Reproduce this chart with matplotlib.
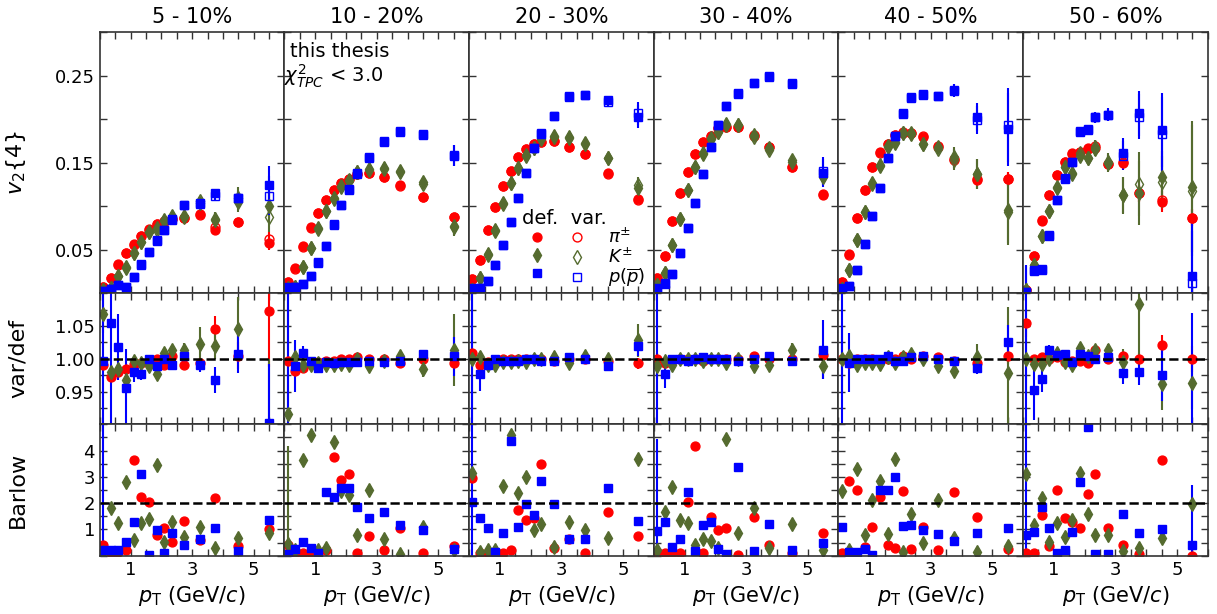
import numpy as np
import matplotlib
matplotlib.use('Agg')
import matplotlib.pyplot as plt
from matplotlib.ticker import FixedLocator, MultipleLocator, FormatStrFormatter
from matplotlib.lines import Line2D

centralities = ['5 - 10%', '10 - 20%', '20 - 30%', '30 - 40%', '40 - 50%', '50 - 60%']
pt = [0.1, 0.35, 0.6, 0.85, 1.1, 1.35, 1.6, 1.85, 2.1, 2.35, 2.75, 3.25, 3.75, 4.5, 5.5]

# v2{4} default selection
pi_def = [
    [0.0076, 0.018, 0.0333, 0.0467, 0.0563, 0.0659, 0.0736, 0.0793, 0.0831, 0.0854, 0.0869, 0.0908, 0.0728, 0.082, 0.0582],
    [0.0134, 0.0287, 0.0544, 0.0759, 0.0927, 0.107, 0.1187, 0.1264, 0.131, 0.1371, 0.1386, 0.134, 0.1245, 0.111, 0.088],
    [0.0161, 0.0383, 0.0728, 0.0996, 0.1237, 0.141, 0.1563, 0.1655, 0.1716, 0.1743, 0.1754, 0.1685, 0.160, 0.138, 0.1084],
    [0.018, 0.0433, 0.0831, 0.115, 0.1398, 0.1598, 0.1743, 0.1812, 0.1897, 0.1908, 0.1908, 0.1808, 0.1685, 0.1455, 0.113],
    [0.0134, 0.0448, 0.0862, 0.1187, 0.1448, 0.162, 0.1713, 0.182, 0.1846, 0.184, 0.180, 0.1685, 0.154, 0.131, 0.131],
    [0.0038, 0.0433, 0.0835, 0.113, 0.136, 0.1513, 0.161, 0.1628, 0.1667, 0.1667, 0.1486, 0.150, 0.115, 0.1053, 0.0869],
]
k_def = [
    [0.004, 0.0057, 0.0199, 0.0306, 0.046, 0.0593, 0.0708, 0.0747, 0.0831, 0.0873, 0.0873, 0.104, 0.0843, 0.105, 0.100],
    [0.006, 0.0073, 0.0306, 0.0524, 0.0747, 0.095, 0.109, 0.1237, 0.130, 0.1398, 0.1429, 0.1437, 0.1398, 0.128, 0.0759],
    [0.004, 0.0172, 0.0448, 0.0728, 0.1034, 0.1271, 0.1444, 0.159, 0.1667, 0.178, 0.180, 0.1793, 0.1716, 0.155, 0.1207],
    [0.0095, 0.023, 0.0555, 0.0854, 0.1187, 0.1455, 0.161, 0.178, 0.1857, 0.1946, 0.1934, 0.182, 0.1667, 0.1513, 0.1352],
    [0.0046, 0.0268, 0.0613, 0.0938, 0.1264, 0.1475, 0.1685, 0.1736, 0.184, 0.1828, 0.1716, 0.1678, 0.1563, 0.137, 0.0957],
    [0.004, 0.0325, 0.0659, 0.095, 0.1207, 0.1455, 0.1386, 0.158, 0.155, 0.166, 0.1494, 0.113, 0.1156, 0.1333, 0.1225],
]
p_def = [
    [0.003, 0.0046, 0.0095, 0.0073, 0.019, 0.0337, 0.047, 0.0613, 0.0728, 0.085, 0.1015, 0.104, 0.115, 0.109, 0.1245],
    [0.0076, 0.0076, 0.0103, 0.0199, 0.0356, 0.0547, 0.0793, 0.1015, 0.1195, 0.138, 0.1563, 0.175, 0.1866, 0.182, 0.158],
    [0.0057, 0.0065, 0.0145, 0.0325, 0.0555, 0.0823, 0.110, 0.138, 0.1667, 0.184, 0.204, 0.226, 0.228, 0.222, 0.203],
    [0.0057, 0.0115, 0.0218, 0.0467, 0.0754, 0.104, 0.137, 0.1678, 0.1934, 0.2156, 0.230, 0.2414, 0.249, 0.2414, 0.1386],
    [0.0057, 0.0088, 0.0268, 0.0563, 0.0889, 0.1214, 0.155, 0.1808, 0.207, 0.2249, 0.228, 0.227, 0.2337, 0.2023, 0.1885],
    [0.002, 0.0268, 0.0276, 0.0659, 0.107, 0.131, 0.1513, 0.185, 0.1877, 0.2023, 0.205, 0.1616, 0.207, 0.1877, 0.0203],
]
pi_err = [
    [0.001, 0.001, 0.001, 0.001, 0.001, 0.001, 0.001, 0.001, 0.001, 0.001, 0.001, 0.002, 0.003, 0.004, 0.008],
    [0.001, 0.001, 0.001, 0.001, 0.001, 0.001, 0.001, 0.001, 0.001, 0.001, 0.001, 0.002, 0.002, 0.003, 0.004],
    [0.001, 0.001, 0.001, 0.001, 0.001, 0.001, 0.001, 0.001, 0.001, 0.001, 0.001, 0.002, 0.002, 0.003, 0.004],
    [0.001, 0.001, 0.001, 0.001, 0.001, 0.001, 0.001, 0.001, 0.001, 0.001, 0.001, 0.002, 0.002, 0.003, 0.005],
    [0.001, 0.001, 0.001, 0.001, 0.001, 0.001, 0.001, 0.001, 0.001, 0.001, 0.002, 0.003, 0.004, 0.006, 0.008],
    [0.002, 0.002, 0.002, 0.002, 0.002, 0.002, 0.002, 0.002, 0.003, 0.003, 0.004, 0.005, 0.01, 0.012, 0.01],
]
k_err = [
    [0.002, 0.002, 0.002, 0.002, 0.002, 0.002, 0.002, 0.002, 0.002, 0.002, 0.003, 0.004, 0.008, 0.012, 0.018],
    [0.002, 0.002, 0.002, 0.002, 0.002, 0.002, 0.002, 0.002, 0.002, 0.002, 0.003, 0.003, 0.004, 0.006, 0.01],
    [0.002, 0.002, 0.002, 0.002, 0.002, 0.002, 0.002, 0.002, 0.002, 0.002, 0.003, 0.003, 0.004, 0.005, 0.01],
    [0.002, 0.002, 0.002, 0.002, 0.002, 0.002, 0.002, 0.002, 0.002, 0.002, 0.003, 0.003, 0.004, 0.006, 0.008],
    [0.002, 0.002, 0.002, 0.002, 0.002, 0.002, 0.002, 0.002, 0.003, 0.003, 0.004, 0.006, 0.012, 0.017, 0.038],
    [0.003, 0.003, 0.003, 0.003, 0.003, 0.004, 0.004, 0.005, 0.006, 0.008, 0.01, 0.021, 0.037, 0.03, 0.075],
]
p_err = [
    [0.006, 0.004, 0.002, 0.002, 0.002, 0.002, 0.002, 0.002, 0.002, 0.002, 0.002, 0.003, 0.005, 0.006, 0.022],
    [0.006, 0.003, 0.002, 0.002, 0.002, 0.002, 0.002, 0.002, 0.002, 0.002, 0.002, 0.003, 0.003, 0.004, 0.012],
    [0.006, 0.003, 0.002, 0.002, 0.002, 0.002, 0.002, 0.002, 0.002, 0.002, 0.002, 0.003, 0.003, 0.004, 0.013],
    [0.006, 0.003, 0.002, 0.002, 0.002, 0.002, 0.002, 0.002, 0.002, 0.002, 0.002, 0.003, 0.003, 0.004, 0.016],
    [0.006, 0.003, 0.002, 0.002, 0.002, 0.002, 0.002, 0.002, 0.002, 0.003, 0.003, 0.004, 0.007, 0.016, 0.042],
    [0.03, 0.004, 0.003, 0.003, 0.003, 0.003, 0.004, 0.004, 0.005, 0.006, 0.007, 0.017, 0.026, 0.043, 0.06],
]

# var/def ratio
pi_ratio = [
    [0.991, 0.972, 0.980, 0.984, 0.992, 0.994, 0.994, 1.0, 0.991, 1.004, 0.990, 0.994, 1.045, 1.005, 1.073],
    [0.997, 0.982, 0.986, 0.992, 0.995, 0.997, 0.997, 0.999, 0.999, 1.003, 1.0, 1.0, 0.994, 0.999, 0.994],
    [1.009, 0.990, 0.995, 0.996, 0.999, 1.0, 0.999, 1.0, 0.999, 0.999, 0.997, 0.999, 1.0, 0.997, 0.993],
    [1.0, 0.994, 0.997, 0.999, 0.999, 1.0, 0.997, 0.999, 0.999, 1.0, 1.0, 1.004, 0.999, 0.999, 1.006],
    [0.999, 0.994, 0.999, 1.0, 0.999, 0.997, 0.999, 1.0, 1.004, 1.0, 1.004, 1.003, 0.997, 0.994, 1.004],
    [1.054, 0.999, 1.003, 1.0, 1.003, 0.995, 0.997, 0.996, 0.994, 1.013, 1.0, 1.004, 0.999, 1.021, 1.0],
]
k_ratio = [
    [1.069, 0.98, 0.984, 0.968, 0.996, 0.994, 0.989, 0.977, 1.009, 1.013, 1.014, 1.023, 1.019, 1.046, 0.88],
    [0.916, 1.003, 0.991, 0.990, 0.994, 0.990, 0.991, 0.992, 0.991, 0.999, 0.989, 0.997, 1.004, 0.984, 1.014],
    [1.0, 1.003, 0.991, 0.991, 0.995, 0.995, 0.997, 0.995, 1.0, 0.999, 1.003, 0.994, 1.004, 1.0, 1.028],
    [0.989, 0.997, 0.991, 0.999, 0.999, 1.0, 0.996, 0.999, 1.0, 0.994, 1.0, 0.989, 0.991, 1.014, 0.989],
    [1.0, 1.004, 0.991, 0.994, 0.994, 0.992, 1.003, 0.994, 1.003, 1.008, 0.999, 0.989, 0.982, 1.002, 0.979],
    [1.0, 0.992, 0.992, 1.0, 1.009, 0.995, 0.991, 1.017, 1.004, 1.013, 1.013, 0.995, 1.084, 0.962, 0.963],
]
p_ratio = [
    [0.997, 1.054, 1.018, 0.955, 0.980, 0.977, 1.0, 0.989, 1.0, 0.990, 1.005, 0.990, 0.968, 1.008, 0.902],
    [0.85, 0.989, 1.009, 0.997, 0.986, 0.995, 0.994, 0.995, 0.995, 0.995, 0.996, 0.995, 0.996, 1.007, 1.004],
    [0.85, 0.976, 0.990, 0.999, 0.997, 0.996, 0.997, 0.999, 1.0, 0.997, 0.997, 1.002, 0.999, 0.989, 1.019],
    [0.85, 0.976, 1.0, 0.999, 0.997, 1.0, 1.003, 0.999, 0.999, 0.999, 0.996, 1.0, 1.004, 0.997, 1.014],
    [0.85, 0.994, 0.999, 1.0, 0.999, 0.999, 1.004, 0.997, 0.996, 1.002, 1.004, 0.999, 0.997, 0.986, 1.026],
    [0.85, 0.952, 0.969, 1.013, 1.006, 1.008, 0.995, 1.008, 1.004, 1.0, 1.002, 0.979, 0.980, 0.975, 0.57],
]
pi_ratio_err = [
    [0.004, 0.004, 0.003, 0.003, 0.003, 0.002, 0.002, 0.002, 0.002, 0.003, 0.003, 0.006, 0.02, 0.02, 0.085],
    [0.003, 0.003, 0.002, 0.002, 0.002, 0.002, 0.002, 0.002, 0.002, 0.002, 0.002, 0.003, 0.004, 0.006, 0.01],
    [0.003, 0.003, 0.002, 0.002, 0.002, 0.002, 0.002, 0.002, 0.002, 0.002, 0.002, 0.003, 0.004, 0.005, 0.008],
    [0.003, 0.003, 0.002, 0.002, 0.002, 0.002, 0.002, 0.002, 0.002, 0.002, 0.002, 0.003, 0.004, 0.005, 0.01],
    [0.003, 0.003, 0.002, 0.002, 0.002, 0.002, 0.002, 0.002, 0.002, 0.002, 0.003, 0.004, 0.005, 0.007, 0.012],
    [0.02, 0.004, 0.003, 0.003, 0.003, 0.003, 0.003, 0.003, 0.004, 0.005, 0.006, 0.008, 0.01, 0.015, 0.02],
]
k_ratio_err = [
    [0.03, 0.01, 0.008, 0.006, 0.004, 0.004, 0.004, 0.004, 0.004, 0.006, 0.01, 0.025, 0.02, 0.048, 0.12],
    [0.3, 0.008, 0.004, 0.003, 0.003, 0.003, 0.003, 0.003, 0.003, 0.003, 0.004, 0.005, 0.006, 0.012, 0.055],
    [0.3, 0.006, 0.004, 0.003, 0.003, 0.003, 0.003, 0.003, 0.003, 0.003, 0.004, 0.005, 0.006, 0.008, 0.025],
    [0.02, 0.006, 0.004, 0.003, 0.003, 0.003, 0.003, 0.003, 0.003, 0.003, 0.004, 0.005, 0.006, 0.01, 0.02],
    [0.05, 0.006, 0.004, 0.003, 0.003, 0.003, 0.003, 0.003, 0.003, 0.004, 0.005, 0.006, 0.01, 0.02, 0.1],
    [0.05, 0.008, 0.005, 0.004, 0.004, 0.004, 0.004, 0.005, 0.006, 0.008, 0.01, 0.02, 0.08, 0.04, 0.04],
]
p_ratio_err = [
    [0.5, 0.5, 0.05, 0.06, 0.015, 0.01, 0.005, 0.004, 0.004, 0.004, 0.005, 0.01, 0.02, 0.03, 0.09],
    [0.5, 0.04, 0.01, 0.005, 0.004, 0.003, 0.003, 0.003, 0.003, 0.003, 0.003, 0.004, 0.004, 0.006, 0.03],
    [0.5, 0.025, 0.006, 0.004, 0.003, 0.003, 0.003, 0.003, 0.003, 0.003, 0.003, 0.004, 0.004, 0.006, 0.015],
    [0.5, 0.02, 0.005, 0.004, 0.003, 0.003, 0.003, 0.003, 0.003, 0.003, 0.003, 0.004, 0.004, 0.006, 0.045],
    [0.5, 0.045, 0.006, 0.004, 0.003, 0.003, 0.003, 0.003, 0.003, 0.003, 0.003, 0.004, 0.004, 0.01, 0.025],
    [0.5, 0.045, 0.02, 0.008, 0.006, 0.005, 0.005, 0.005, 0.005, 0.006, 0.006, 0.017, 0.02, 0.04, 0.5],
]

# Barlow significance
pi_barlow = [
    [0.42, 0.1, 0.15, 0.2, 3.65, 2.23, 2.04, 0.78, 1.07, 0.52, 1.32, 0.58, 2.19, 0.35, 1.0],
    [0.42, 0.1, 0.1, 0.1, 0.1, 0.2, 3.76, 2.87, 3.09, 0.1, 0.75, 0.23, 1.07, 0.1, 0.35],
    [2.96, 0.1, 0.1, 0.1, 0.1, 0.2, 1.74, 1.36, 1.42, 3.48, 0.29, 0.65, 0.11, 1.68, 0.75],
    [0.14, 0.1, 0.1, 0.1, 2.06, 4.16, 0.11, 1.46, 0.97, 1.06, 0.03, 1.46, 0.42, 0.1, 0.88],
    [0.1, 2.84, 2.49, 0.33, 1.09, 2.23, 0.42, 0.3, 2.45, 0.24, 1.09, 0.23, 2.41, 1.49, 0.26],
    [0.1, 0.1, 1.55, 0.37, 2.51, 1.45, 1.29, 1.07, 2.35, 3.12, 1.06, 0.39, 0.07, 3.65, 0.0],
]
k_barlow = [
    [0.14, 1.83, 1.25, 2.8, 0.58, 1.23, 1.38, 3.44, 0.52, 1.29, 0.71, 1.09, 0.29, 0.69, 0.88],
    [0.46, 0.2, 3.65, 4.6, 0.2, 0.3, 4.31, 2.45, 2.3, 0.8, 2.51, 0.65, 0.07, 1.1, 0.2],
    [3.16, 0.14, 0.2, 0.2, 2.67, 4.6, 2.39, 2.99, 0.97, 1.19, 0.33, 1.29, 0.97, 0.69, 3.67],
    [0.2, 1.68, 2.6, 1.36, 1.23, 0.42, 0.65, 0.55, 0.3, 4.44, 0.88, 1.81, 0.3, 1.19, 0.2],
    [2.45, 0.2, 3.28, 0.8, 2.13, 2.86, 0.84, 3.67, 0.14, 1.58, 0.5, 2.1, 0.69, 0.14, 0.37],
    [3.11, 1.16, 2.19, 0.52, 1.23, 0.71, 1.36, 3.13, 1.58, 0.78, 0.8, 0.18, 0.3, 0.69, 1.96],
]
p_barlow = [
    [0.2, 0.23, 0.23, 0.52, 1.27, 3.09, 0.03, 0.97, 0.1, 0.87, 0.39, 0.65, 1.04, 0.18, 1.36],
    [0.07, 0.26, 0.52, 0.29, 0.1, 2.42, 2.23, 2.58, 2.58, 1.87, 1.45, 1.65, 1.16, 0.97, 0.26],
    [2.06, 1.42, 1.04, 0.14, 0.88, 4.35, 1.1, 1.97, 1.55, 2.84, 1.96, 0.65, 0.65, 2.58, 1.33],
    [0.93, 1.29, 0.33, 0.62, 2.41, 0.16, 1.16, 1.27, 0.24, 0.07, 3.38, 0.18, 1.19, 0.23, 0.5],
    [1.1, 0.14, 0.14, 0.26, 0.04, 2.51, 2.48, 3.0, 1.14, 1.16, 0.97, 0.82, 0.57, 0.88, 1.04],
    [0.78, 0.91, 1.87, 1.06, 0.1, 0.2, 0.91, 2.8, 4.89, 0.07, 0.07, 1.58, 0.88, 1.0, 0.39],
]
k_barlow_err = [
    [0] * 15,
    [3.7] + [0] * 14,
    [0] * 15,
    [0] * 15,
    [0] * 15,
    [0] * 15,
]
p_barlow_err = [
    [5.0] + [0] * 14,
    [0] * 15,
    [5.0] + [0] * 14,
    [3.5] + [0] * 14,
    [0] * 15,
    [5.0] + [0] * 13 + [2.3],
]

species = [
    dict(name=r'$\pi^{\pm}$', d=pi_def, e=pi_err, r=pi_ratio, re=pi_ratio_err,
         b=pi_barlow, be=None, marker='o', color='#ff0000', ms=6.4),
    dict(name=r'$K^{\pm}$', d=k_def, e=k_err, r=k_ratio, re=k_ratio_err,
         b=k_barlow, be=k_barlow_err, marker='d', color='#556b2f', ms=7.6),
    dict(name=r'$p(\overline{p})$', d=p_def, e=p_err, r=p_ratio, re=p_ratio_err,
         b=p_barlow, be=p_barlow_err, marker='s', color='#0000ff', ms=6.0),
]

fig = plt.figure(figsize=(12.17, 6.14), dpi=100)
gs = fig.add_gridspec(3, 6, height_ratios=[261, 131, 131.4], left=0.0820, right=0.9924,
                      bottom=0.0950, top=0.9474, wspace=0, hspace=0)
axes = np.empty((3, 6), dtype=object)
for r in range(3):
    for c in range(6):
        kw = {}
        if c > 0:
            kw['sharey'] = axes[r, 0]
        if r > 0 or c > 0:
            kw['sharex'] = axes[0, 0]
        axes[r, c] = fig.add_subplot(gs[r, c], **kw)

ylims = [(0.0, 0.3), (0.9, 1.1), (0.0, 5.0)]
ymaj = [[0.05, 0.15, 0.25], [0.95, 1.0, 1.05], [1, 2, 3, 4]]
ymin = [0.05, 0.025, 0.5]
yfmt = ['%.2f', '%.2f', '%d']

for c in range(6):
    for s in species:
        d = np.array(s['d'][c])
        e = np.array(s['e'][c])
        ratio = np.array(s['r'][c])
        var = d * ratio
        col = s['color']
        common = dict(color=col, ecolor=col, elinewidth=1.5, capsize=0, ms=s['ms'], ls='none')
        axes[0, c].errorbar(pt, d, yerr=e, fmt=s['marker'], mfc=col, mec=col, **common)
        axes[0, c].errorbar(pt, var, yerr=e, fmt=s['marker'], mfc='none', mec=col, mew=1.0, **common)
        axes[1, c].errorbar(pt, ratio, yerr=s['re'][c], fmt=s['marker'], mfc=col, mec=col, **common)
        be = s['be'][c] if s['be'] is not None else None
        axes[2, c].errorbar(pt, s['b'][c], yerr=be, fmt=s['marker'], mfc=col, mec=col, **common)
    axes[1, c].axhline(1.0, color='black', ls='--', lw=1.8, zorder=5)
    axes[2, c].axhline(2.0, color='black', ls='--', lw=1.8, zorder=5)
    axes[0, c].set_title(centralities[c], fontsize=15, pad=7)

for r in range(3):
    for c in range(6):
        ax = axes[r, c]
        ax.set_xlim(0, 6)
        ax.set_ylim(*ylims[r])
        ax.xaxis.set_major_locator(FixedLocator([1, 3, 5]))
        ax.xaxis.set_minor_locator(MultipleLocator(0.5))
        ax.yaxis.set_major_locator(FixedLocator(ymaj[r]))
        ax.yaxis.set_minor_locator(MultipleLocator(ymin[r]))
        ax.yaxis.set_major_formatter(FormatStrFormatter(yfmt[r]))
        ax.tick_params(which='both', direction='in', top=True, right=True,
                       length=5, width=1.0, color='#333333', labelsize=13)
        for sp in ax.spines.values():
            sp.set_linewidth(1.2)
            sp.set_color('#333333')
        if c > 0:
            ax.tick_params(labelleft=False)
        if r < 2:
            ax.tick_params(labelbottom=False)
        else:
            ax.set_xlabel(r'$p_{\mathrm{T}}$ (GeV/$c$)', fontsize=15, labelpad=4)

ylabels = [r'$v_{2}\{4\}$', 'var/def', 'Barlow']
for r in range(3):
    axes[r, 0].set_ylabel(ylabels[r], fontsize=16)
    axes[r, 0].yaxis.set_label_coords(-0.39, 0.5)

axes[0, 1].text(0.03, 0.928, 'this thesis', transform=axes[0, 1].transAxes,
                fontsize=14, va='center', ha='left')
axes[0, 1].text(0.0, 0.832, r'$\chi^{2}_{TPC}$ < 3.0', transform=axes[0, 1].transAxes,
                fontsize=14, va='center', ha='left')

handles = []
labels = []
for s in species:
    handles.append(Line2D([], [], ls='none', marker=s['marker'], color=s['color'],
                          mfc=s['color'], mec=s['color'], ms=s['ms']))
    labels.append('')
for s in species:
    handles.append(Line2D([], [], ls='none', marker=s['marker'], color=s['color'],
                          mfc='none', mec=s['color'], mew=1.0, ms=s['ms']))
    labels.append(s['name'])
leg = axes[0, 2].legend(handles, labels, ncol=2, title='def.  var.', title_fontsize=14,
                        fontsize=13, frameon=False, loc='upper left',
                        bbox_to_anchor=(0.236, 0.358), borderpad=0, handlelength=1.65,
                        handletextpad=0.91, columnspacing=-0.35, labelspacing=0.0,
                        handleheight=0.5, alignment='left')

fig.savefig('out.png', dpi=100)
